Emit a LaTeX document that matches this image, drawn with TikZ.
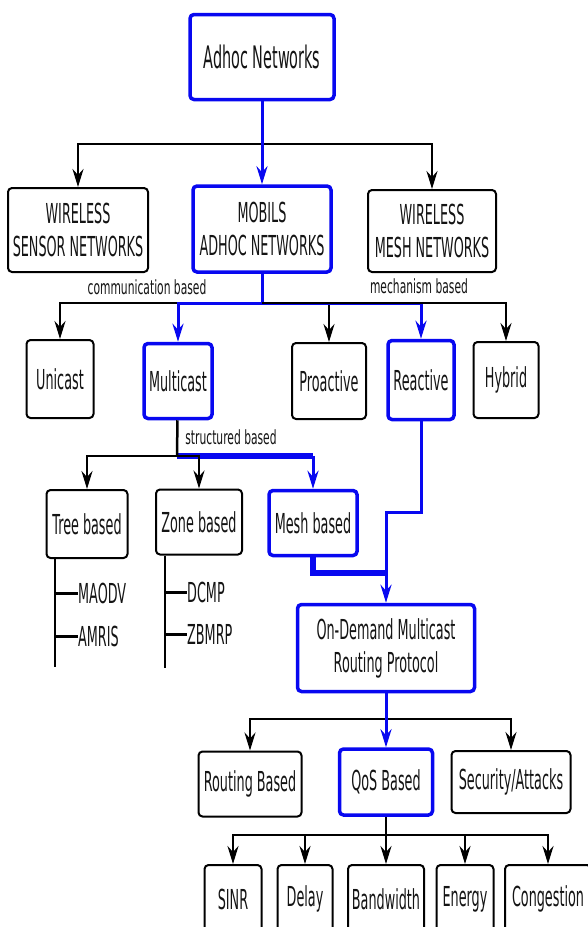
\documentclass[tikz,border=0pt]{standalone}
\usepackage{fontspec}
\usepackage{tikz}
\usetikzlibrary{arrows.meta}
\newfontfamily\boxfont{DejaVu Sans}[FakeStretch=0.465]
\newfontfamily\labelfont{DejaVu Sans}[FakeStretch=0.55]
\definecolor{pathblue}{RGB}{8,8,240}
\definecolor{darktext}{RGB}{20,20,20}

\begin{document}
\begin{tikzpicture}[x=1pt, y=-1pt,
    box/.style={draw=black, fill=white, rounded corners=4pt, line width=2pt,
                inner sep=0pt, align=center, text=darktext,
                font=\boxfont\fontsize{27.5}{33}\selectfont},
    bluebox/.style={box, draw=pathblue, line width=3.5pt},
    tag/.style={inner sep=0pt, text=darktext,
                font=\labelfont\fontsize{19.5}{22}\selectfont},
    leaf/.style={anchor=west, inner sep=0pt, text=darktext,
                 font=\boxfont\fontsize{27.5}{30}\selectfont},
    wire/.style={line width=2.5pt, color=black},
    arrow/.style={wire, -{Stealth[length=18pt, width=11pt, inset=6pt]}},
    blueline/.style={line width=3pt, color=pathblue},
    bluearrow/.style={blueline, -{Stealth[length=18pt, width=11pt, inset=6pt]}},
    thickblue/.style={line width=5.5pt, color=pathblue},
    stem/.style={line width=1.5pt, color=black},
    twig/.style={line width=3pt, color=black}
]
\useasboundingbox (0,0) rectangle (588,927);
\clip (0,0) rectangle (588,927);

% top levels
\node[bluebox, minimum width=144, minimum height=85,
      font=\boxfont\fontsize{31}{33}\selectfont] (adhoc) at (262,57) {Adhoc Networks};
\node[box, minimum width=140, minimum height=84] (wsn) at (78,230) {WIRELESS\\SENSOR NETWORKS};
\node[bluebox, minimum width=138, minimum height=86] (manet) at (262,229) {MOBILS\\ADHOC NETWORKS};
\node[box, minimum width=128, minimum height=82] (wmn) at (432,231) {WIRELESS\\MESH NETWORKS};
\node[tag] (comm) at (147,287) {communication based};
\node[tag] (mech) at (419,286) {mechanism based};

% routing classes
\node[box, minimum width=67, minimum height=78] (unicast) at (60,379) {Unicast};
\node[bluebox, minimum width=68, minimum height=75] (multicast) at (178,381) {Multicast};
\node[box, minimum width=74, minimum height=76] (proactive) at (329,381) {Proactive};
\node[bluebox, minimum width=66, minimum height=79] (reactive) at (421,380) {Reactive};
\node[box, minimum width=65, minimum height=76] (hybrid) at (506,380) {Hybrid};
\node[tag] (struct) at (231,437) {structured based};

% multicast structures
\node[box, minimum width=81, minimum height=68] (tree) at (87,524) {Tree based};
\node[box, minimum width=86, minimum height=65] (zone) at (199,522) {Zone based};
\node[bluebox, minimum width=88, minimum height=65] (mesh) at (313,523) {Mesh based};
\node[leaf] (maodv) at (78,593) {MAODV};
\node[leaf] (amris) at (78,636) {AMRIS};
\node[leaf] (dcmp) at (187,592) {DCMP};
\node[leaf] (zbmrp) at (187,634) {ZBMRP};
\coordinate (treeend) at (55,667);
\coordinate (zoneend) at (165,668);

\node[bluebox, minimum width=177, minimum height=87] (odmrp) at (386,648) {On-Demand Multicast\\Routing Protocol};

\node[box, minimum width=103, minimum height=65] (routing) at (250,784) {Routing Based};
\node[bluebox, minimum width=93, minimum height=66] (qos) at (386,782) {QoS Based};
\node[box, minimum width=119, minimum height=62] (security) at (511,782) {Security/Attacks};

% qos metrics
\node[box, minimum width=57, minimum height=68] (sinr) at (233,899) {SINR};
\node[box, minimum width=55, minimum height=68] (delay) at (305,899) {Delay};
\node[box, minimum width=76, minimum height=68] (bandwidth) at (386,899) {Bandwidth};
\node[box, minimum width=57, minimum height=68] (energy) at (465,899) {Energy};
\node[box, minimum width=86, minimum height=68] (congestion) at (548,899) {Congestion};

% connectors
\coordinate (bus1) at (262,144);
\draw[arrow] (bus1) -| (wsn.north);
\draw[arrow] (bus1) -| (wmn.north);
\draw[bluearrow] (adhoc) -- (manet);

\coordinate (bus2) at (262,303);
\draw[arrow] (bus2) -| (unicast.north);
\draw[arrow] (bus2) -| (proactive.north);
\draw[blueline] (manet) -- (bus2);
\draw[bluearrow] (bus2) -| (multicast.north);
\draw[bluearrow] (bus2) -| (reactive.north);
\draw[arrow] (bus2) -| (hybrid.north);

\coordinate (bus3) at (177,456);
\draw[thickblue] (bus3) -- (bus3 -| mesh.north);
\draw[bluearrow] (bus3 -| mesh.north) -- (mesh.north);
\draw[wire] (multicast) -- (bus3);
\draw[arrow] (bus3) -| (tree.north);
\draw[arrow] (bus3) -| (zone.north);

\draw[stem] (tree.south -| treeend) -- (treeend);
\draw[twig] (maodv.west -| treeend) -- (maodv.west);
\draw[twig] (amris.west -| treeend) -- (amris.west);
\draw[stem] (zone.south -| zoneend) -- (zoneend);
\draw[twig] (dcmp.west -| zoneend) -- (dcmp.west);
\draw[twig] (zbmrp.west -| zoneend) -- (zbmrp.west);

\coordinate (rbend) at (421,512);
\coordinate (merge) at (386,573);
\draw[bluearrow] (reactive) -- (rbend) -| (odmrp.north);
\draw[thickblue] (mesh) |- (merge);

\coordinate (bus5) at (386,719);
\draw[arrow] (bus5) -| (routing.north);
\draw[arrow] (bus5) -| (security.north);
\draw[blueline] (odmrp) -- (bus5);
\draw[bluearrow] (bus5) -- (qos);

\coordinate (bus6) at (386,835);
\draw[wire] (qos) -- (bus6);
\draw[arrow] (bus6) -| (sinr.north);
\draw[arrow] (bus6) -| (delay.north);
\draw[arrow] (bus6) -- (bandwidth);
\draw[arrow] (bus6) -| (energy.north);
\draw[arrow] (bus6) -| (congestion.north);
\end{tikzpicture}
\end{document}
